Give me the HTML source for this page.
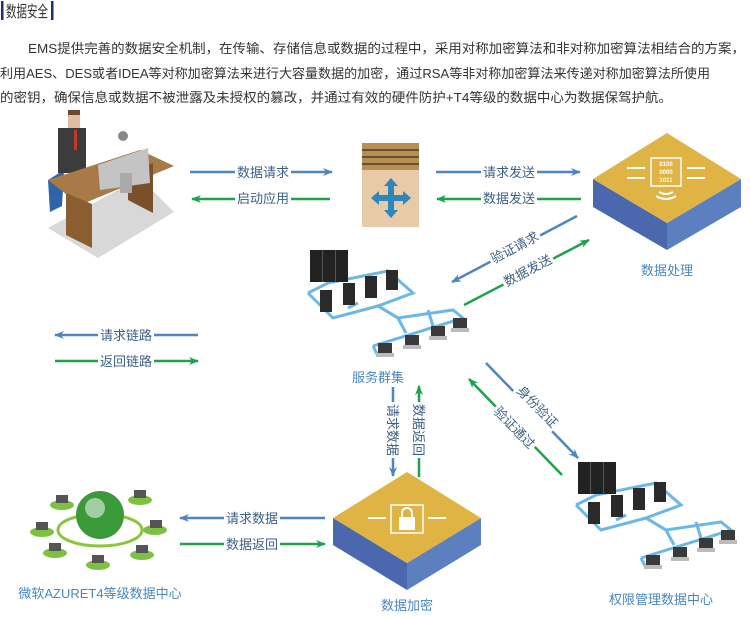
<!DOCTYPE html>
<html><head><meta charset="utf-8"><style>
html,body{margin:0;padding:0;background:#fff;}
svg{display:block;font-family:"Liberation Sans","Noto Sans CJK SC",sans-serif;}
</style></head><body>
<svg width="750" height="618" viewBox="0 0 750 618" xmlns="http://www.w3.org/2000/svg">
<defs>
<marker id="ab" markerWidth="10" markerHeight="8" refX="9" refY="4" orient="auto" markerUnits="userSpaceOnUse"><path d="M0,0 L10,4 L0,8 L3,4 z" fill="#4f86be"/></marker>
<marker id="ag" markerWidth="10" markerHeight="8" refX="9" refY="4" orient="auto" markerUnits="userSpaceOnUse"><path d="M0,0 L10,4 L0,8 L3,4 z" fill="#1ea24a"/></marker>
<g id="cluster">
 <path d="M10,55 L30,45 L90,33 L115,55 L80,68 L100,80 L155,72 L165,80 L75,108" fill="none" stroke="#6bb8e6" stroke-width="3"/>
 <path d="M10,55 L35,80 L80,68 M50,70 L60,65 M75,108 L80,118 M100,80 L108,95 M130,72 L135,88 M80,68 L100,80" fill="none" stroke="#6bb8e6" stroke-width="3"/>
 <rect x="12" y="12" width="38" height="32" fill="#222"/>
 <rect x="24" y="12" width="1" height="32" fill="#555"/><rect x="37" y="12" width="1" height="32" fill="#555"/>
 <rect x="22" y="52" width="12" height="22" fill="#2a2a2a"/>
 <rect x="45" y="45" width="12" height="22" fill="#2a2a2a"/>
 <rect x="67" y="38" width="12" height="22" fill="#2a2a2a"/>
 <rect x="88" y="32" width="12" height="20" fill="#2a2a2a"/>
 <g fill="#3a3a3a"><rect x="80" y="105" width="14" height="10"/><rect x="107" y="97" width="14" height="10"/><rect x="133" y="88" width="14" height="10"/><rect x="155" y="80" width="14" height="10"/></g>
 <g fill="#bbb"><rect x="78" y="115" width="18" height="4"/><rect x="105" y="107" width="18" height="4"/><rect x="131" y="98" width="18" height="4"/><rect x="153" y="90" width="18" height="4"/></g>
</g>
</defs>

<!-- title -->
<rect x="1" y="1" width="2.5" height="19" fill="#1c2f6e"/>
<rect x="51" y="1" width="2.5" height="19" fill="#1c2f6e"/>
<text x="6" y="17" font-size="16" fill="#333" textLength="42" lengthAdjust="spacingAndGlyphs">数据安全</text>
<g font-size="13" fill="#333">
<text x="28" y="53" textLength="717" lengthAdjust="spacingAndGlyphs">EMS提供完善的数据安全机制，在传输、存储信息或数据的过程中，采用对称加密算法和非对称加密算法相结合的方案，</text>
<text x="0" y="78" textLength="710" lengthAdjust="spacingAndGlyphs">利用AES、DES或者IDEA等对称加密算法来进行大容量数据的加密，通过RSA等非对称加密算法来传递对称加密算法所使用</text>
<text x="0" y="102" textLength="672" lengthAdjust="spacingAndGlyphs">的密钥，确保信息或数据不被泄露及未授权的篡改，并通过有效的硬件防护+T4等级的数据中心为数据保驾护航。</text>
</g>

<!-- person desk -->
<polygon points="48,228 140,178 174,212 98,258" fill="#d8d8d8"/>
<polygon points="48,180 64,170 62,206 50,212" fill="#2f64a8"/>
<rect x="58" y="128" width="28" height="45" fill="#3c3c3c"/>
<rect x="68" y="112" width="12" height="16" fill="#e4bca0"/>
<rect x="68" y="110" width="12" height="5" fill="#6b4a30"/>
<rect x="74" y="130" width="3" height="20" fill="#c0392b"/>
<polygon points="48,180 140,150 174,166 80,205" fill="#a87a48"/>
<polygon points="66,193 92,204 92,248 66,235" fill="#8a5e30"/>
<polygon points="128,175 153,163 153,213 128,200" fill="#7a5028"/>
<polygon points="98,165 148,148 150,183 100,190" fill="#c4c4c4"/>
<rect x="120" y="173" width="12" height="20" fill="#aaa"/>
<circle cx="123" cy="136" r="5" fill="#888"/>

<!-- firewall -->
<rect x="362" y="170" width="57" height="57" fill="#e8c9a8"/>
<rect x="362" y="143" width="57" height="27" fill="#b88e52"/>
<g stroke="#111" stroke-width="1"><line x1="362" y1="150" x2="419" y2="150"/><line x1="362" y1="157" x2="419" y2="157"/><line x1="362" y1="164" x2="419" y2="164"/></g>
<g fill="#2f86b8"><rect x="388" y="183" width="6" height="30"/><rect x="376" y="195" width="30" height="6"/>
<polygon points="391,178 384,186 398,186"/><polygon points="391,218 384,210 398,210"/><polygon points="371,198 379,191 379,205"/><polygon points="411,198 403,191 403,205"/></g>

<!-- data processing box -->
<polygon points="593,179 667,223 667,250 593,207" fill="#4b67ad"/>
<polygon points="741,179 667,223 667,250 741,207" fill="#5c7fc0"/>
<polygon points="667,133 741,179 667,223 593,179" fill="#e0b444"/>
<rect x="651" y="158" width="30" height="28" fill="none" stroke="#fff" stroke-width="1.5"/>
<text x="666" y="166" font-size="6" fill="#fff" text-anchor="middle" font-weight="bold">0100</text>
<text x="666" y="174" font-size="6" fill="#fff" text-anchor="middle" font-weight="bold">0000</text>
<text x="666" y="182" font-size="6" fill="#fff" text-anchor="middle" font-weight="bold">1011</text>
<g stroke="#fff" stroke-width="2"><line x1="627" y1="168" x2="645" y2="168"/><line x1="627" y1="178" x2="645" y2="178"/><line x1="687" y1="168" x2="705" y2="168"/><line x1="687" y1="178" x2="705" y2="178"/></g>
<path d="M656,196 Q666,202 676,196 M659,192 Q666,196 673,192" stroke="#fff" stroke-width="2" fill="none"/>
<text x="667" y="275" font-size="13" fill="#4a87c0" text-anchor="middle">数据处理</text>

<!-- arrows -->
<g stroke-width="2.5" fill="none">
<line x1="190" y1="172" x2="332" y2="172" stroke="#4f86be" marker-end="url(#ab)"/>
<line x1="330" y1="199" x2="192" y2="199" stroke="#1ea24a" marker-end="url(#ag)"/>
<line x1="436" y1="172" x2="580" y2="172" stroke="#4f86be" marker-end="url(#ab)"/>
<line x1="581" y1="199" x2="437" y2="199" stroke="#1ea24a" marker-end="url(#ag)"/>
<line x1="198" y1="335" x2="55" y2="335" stroke="#4f86be" marker-end="url(#ab)"/>
<line x1="55" y1="361" x2="198" y2="361" stroke="#1ea24a" marker-end="url(#ag)"/>
<line x1="325" y1="518" x2="180" y2="518" stroke="#4f86be" marker-end="url(#ab)"/>
<line x1="180" y1="544" x2="325" y2="544" stroke="#1ea24a" marker-end="url(#ag)"/>
<line x1="577" y1="216" x2="452" y2="282" stroke="#4f86be" marker-end="url(#ab)"/>
<line x1="464" y1="305" x2="589" y2="240" stroke="#1ea24a" marker-end="url(#ag)"/>
<line x1="393" y1="387" x2="393" y2="476" stroke="#4f86be" marker-end="url(#ab)"/>
<line x1="419" y1="477" x2="419" y2="386" stroke="#1ea24a" marker-end="url(#ag)"/>
<line x1="486" y1="363" x2="578" y2="458" stroke="#4f86be" marker-end="url(#ab)"/>
<line x1="562" y1="475" x2="469" y2="379" stroke="#1ea24a" marker-end="url(#ag)"/>
</g>
<g font-size="13" fill="#3d5f86" text-anchor="middle">
<rect x="235" y="163" width="56" height="18" fill="#fff"/><text x="263" y="177">数据请求</text>
<rect x="235" y="190" width="56" height="18" fill="#fff"/><text x="263" y="203">启动应用</text>
<rect x="481" y="163" width="56" height="18" fill="#fff"/><text x="509" y="177">请求发送</text>
<rect x="481" y="190" width="56" height="18" fill="#fff"/><text x="509" y="203">数据发送</text>
<rect x="98" y="326" width="56" height="18" fill="#fff"/><text x="126" y="340">请求链路</text>
<rect x="98" y="352" width="56" height="18" fill="#fff"/><text x="126" y="366">返回链路</text>
<rect x="224" y="509" width="56" height="18" fill="#fff"/><text x="252" y="523">请求数据</text>
<rect x="224" y="535" width="56" height="18" fill="#fff"/><text x="252" y="549">数据返回</text>
<g transform="translate(515,248) rotate(-28)"><rect x="-28" y="-10" width="56" height="18" fill="#fff"/><text x="0" y="4">验证请求</text></g>
<g transform="translate(528,271) rotate(-28)"><rect x="-28" y="-10" width="56" height="18" fill="#fff"/><text x="0" y="4">数据发送</text></g>
<g transform="translate(393,430) rotate(90)"><rect x="-28" y="-9" width="56" height="18" fill="#fff"/><text x="0" y="5">请求数据</text></g>
<g transform="translate(419,430) rotate(90)"><rect x="-28" y="-9" width="56" height="18" fill="#fff"/><text x="0" y="5">数据返回</text></g>
<g transform="translate(537,407) rotate(46)"><rect x="-28" y="-9" width="56" height="18" fill="#fff"/><text x="0" y="4">身份验证</text></g>
<g transform="translate(514,428) rotate(46)"><rect x="-28" y="-9" width="56" height="18" fill="#fff"/><text x="0" y="4">验证通过</text></g>
</g>

<!-- clusters -->
<use href="#cluster" transform="translate(298,238)"/>
<text x="378" y="382" font-size="13" fill="#4a87c0" text-anchor="middle">服务群集</text>
<use href="#cluster" transform="translate(566,450)"/>
<text x="661" y="604" font-size="13" fill="#4a87c0" text-anchor="middle">权限管理数据中心</text>

<!-- encryption box -->
<polygon points="333,518 407,563 407,590 333,545" fill="#4b67ad"/>
<polygon points="481,518 407,563 407,590 481,545" fill="#5c7fc0"/>
<polygon points="407,472 481,518 407,563 333,518" fill="#e0b444"/>
<rect x="391" y="505" width="32" height="28" fill="none" stroke="#fff" stroke-width="1.5"/>
<rect x="399" y="517" width="16" height="13" fill="#fff"/>
<path d="M402,517 v-4 a5,5 0 0 1 10,0 v4" stroke="#fff" stroke-width="2" fill="none"/>
<g stroke="#fff" stroke-width="2"><line x1="368" y1="518" x2="386" y2="518"/><line x1="428" y1="518" x2="446" y2="518"/></g>
<text x="407" y="610" font-size="13" fill="#4a87c0" text-anchor="middle">数据加密</text>

<!-- globe -->
<ellipse cx="100" cy="530" rx="42" ry="16" fill="none" stroke="#8cc63f" stroke-width="3"/>
<circle cx="100" cy="515" r="24" fill="#3a9a3a"/>
<circle cx="95" cy="508" r="10" fill="#e8f2e8" opacity="0.6"/>
<g fill="#7cc142"><ellipse cx="62" cy="505" rx="12" ry="5"/><ellipse cx="140" cy="500" rx="12" ry="5"/><ellipse cx="42" cy="532" rx="12" ry="5"/><ellipse cx="155" cy="530" rx="12" ry="5"/><ellipse cx="55" cy="553" rx="12" ry="5"/><ellipse cx="142" cy="555" rx="12" ry="5"/><ellipse cx="98" cy="565" rx="12" ry="5"/></g>
<g fill="#555"><rect x="56" y="495" width="12" height="8"/><rect x="134" y="490" width="12" height="8"/><rect x="36" y="522" width="12" height="8"/><rect x="150" y="520" width="12" height="8"/><rect x="49" y="543" width="12" height="8"/><rect x="136" y="545" width="12" height="8"/><rect x="92" y="555" width="12" height="8"/></g>
<text x="100" y="598" font-size="13" fill="#4a87c0" text-anchor="middle">微软AZURET4等级数据中心</text>
</svg>
</body></html>
